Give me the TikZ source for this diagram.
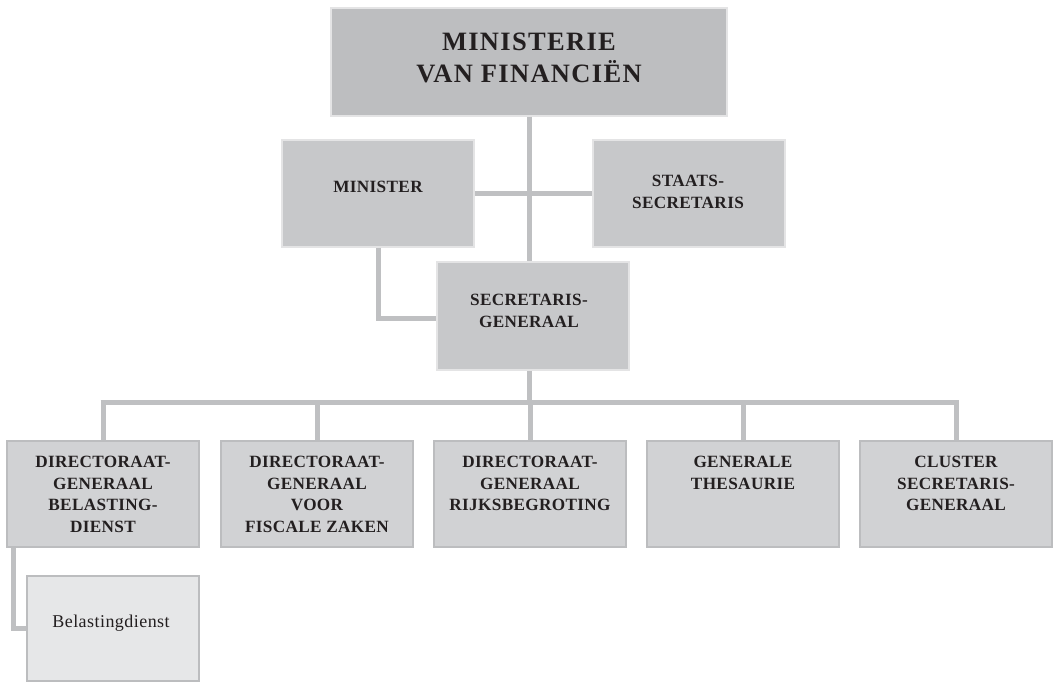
\documentclass[tikz,border=0pt]{standalone}
\usepackage{fontspec}
\setmainfont{Liberation Serif}
\definecolor{topfill}{HTML}{BDBEC0}
\definecolor{midfill}{HTML}{C7C8CA}
\definecolor{botfill}{HTML}{D1D2D4}
\definecolor{subfill}{HTML}{E6E7E8}
\definecolor{linecol}{HTML}{BFC0C2}
\definecolor{edgelight}{HTML}{E4E4E5}
\definecolor{edgedark}{HTML}{BCBDBF}
\definecolor{txt}{HTML}{231F20}
\tikzset{
  orgbox/.style={rectangle, inner sep=0pt, line width=1.5pt, minimum width=192pt, minimum height=107pt},
  topbox/.style={orgbox, fill=topfill, draw=edgelight, minimum width=396pt, minimum height=108pt},
  midbox/.style={orgbox, fill=midfill, draw=edgelight},
  botbox/.style={orgbox, fill=botfill, draw=edgedark, minimum height=106pt},
  subbox/.style={orgbox, fill=subfill, draw=edgedark, minimum width=172pt, minimum height=105pt},
  conn/.style={draw=linecol, line width=5pt},
  bigtxt/.style={inner sep=0pt, anchor=north, align=center, text=txt, font=\fontsize{26.5}{32}\selectfont\bfseries\addfontfeatures{LetterSpace=5}},
  smalltxt/.style={inner sep=0pt, anchor=north, align=center, text=txt, font=\fontsize{17.2}{21.5}\selectfont\bfseries\addfontfeatures{LetterSpace=2}},
  plaintxt/.style={inner sep=0pt, align=center, text=txt, font=\fontsize{18}{20}\selectfont\addfontfeatures{LetterSpace=2.5}}
}
\begin{document}
\begin{tikzpicture}[x=1pt,y=-1pt]
\useasboundingbox[fill=white] (0,0) rectangle (1054,682);
\coordinate (bus) at (0,402);
\coordinate (minline) at (0,318);
% boxes
\node[topbox] (top) at (529,62) {};
\node[midbox] (min) at (378,193.5) {};
\node[midbox] (sta) at (689,193.5) {};
\node[midbox, minimum height=108pt] (sg) at (533,316) {};
\node[botbox] (d1) at (103,494) {};
\node[botbox] (d2) at (317,494) {};
\node[botbox] (d3) at (530,494) {};
\node[botbox] (d4) at (743,494) {};
\node[botbox] (d5) at (956,494) {};
\node[subbox] (sub) at (113,628.5) {};
% connectors
\draw[conn] (top.south) -- (top.south |- sg.north);
\draw[conn] (min.east) -- (sta.west);
\draw[conn] (min.south) -- (min.south |- minline) -- (sg.west |- minline);
\draw[conn] (top.south |- sg.south) -- (top.south |- bus);
\draw[conn] ([xshift=-2.5pt]d1.north |- bus) -- ([xshift=2.5pt]d5.north |- bus);
\foreach \d in {d1,d2,d3,d4,d5} {\draw[conn] (\d.north) -- (\d.north |- bus);}
\draw[conn] ([xshift=7pt]d1.south west) |- (sub.west);
% texts
\node[bigtxt] (ttop) at (529,33) {MINISTERIE\\VAN FINANCIËN};
\node[smalltxt] (tmin) at (378,181) {MINISTER};
\node[smalltxt] (tsta) at (688,175) {STAATS-\\SECRETARIS};
\node[smalltxt] (tsg) at (529,294) {SECRETARIS-\\GENERAAL};
\node[smalltxt] (td1) at (103,456) {DIRECTORAAT-\\GENERAAL\\BELASTING-\\DIENST};
\node[smalltxt] (td2) at (317,456) {DIRECTORAAT-\\GENERAAL\\VOOR\\FISCALE ZAKEN};
\node[smalltxt] (td3) at (530,456) {DIRECTORAAT-\\GENERAAL\\RIJKSBEGROTING};
\node[smalltxt] (td4) at (743,456) {GENERALE\\THESAURIE};
\node[smalltxt] (td5) at (956,456) {CLUSTER\\SECRETARIS-\\GENERAAL};
\node[plaintxt] (tsub) at (111,623) {Belastingdienst};
\end{tikzpicture}
\end{document}
